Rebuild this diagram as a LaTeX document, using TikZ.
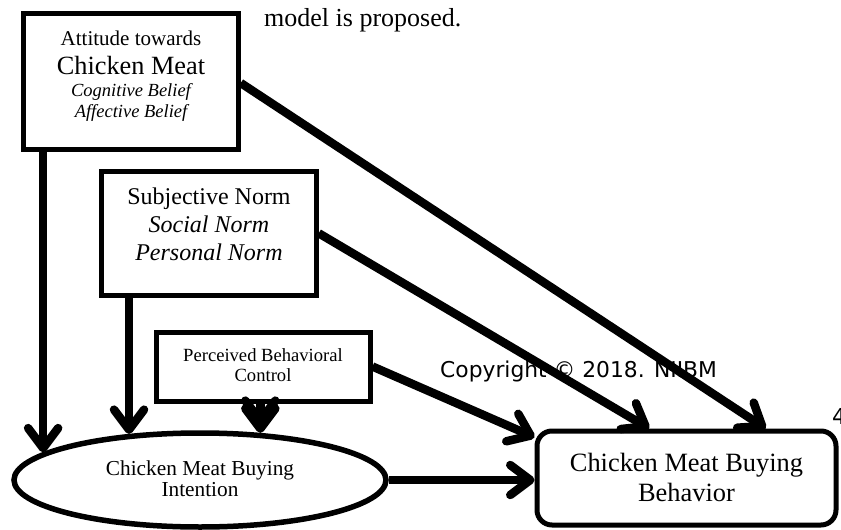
\documentclass[tikz,border=0pt]{standalone}
\usepackage{fontspec}
\setmainfont{Liberation Serif}
\newfontfamily\cpfont{DejaVu Sans}
\usetikzlibrary{arrows.meta,shapes.geometric}
\newcommand\rowx[3]{\rule[-#2pt]{0pt}{\dimexpr #1pt+#2pt\relax}{#3}}
\newcommand\fsz[1]{\fontsize{#1}{0}\selectfont}
\newcommand\tightlines{\fsz{20}\lineskip=0pt\lineskiplimit=0pt\relax}
\begin{document}
\begin{tikzpicture}[x=1pt,y=-1pt,
  box/.style={draw,line width=5pt,inner sep=0pt,align=center,font={\tightlines}},
  arr/.style={line width=8.5pt,-{Straight Barb[length=20pt,width=30pt,round]}},
  plain/.style={anchor=base west,inner sep=0pt}
]
\useasboundingbox (0,0) rectangle (841,530);

\node[plain,font=\fsz{26}] (cap) at (264,26) {model is proposed.};
\node[plain,font={\cpfont\fsz{21.8}}] (copy) at (440,377) {Copyright © 2018. NIIBM};
\node[plain,font={\cpfont\fsz{22}}] (pg) at (832,424) {4};

\node[box,minimum width=214.5pt,minimum height=136pt] (A) at (131,81)
  {\rowx{16}{6}{\fsz{21}Attitude towards}\\
   \rowx{22.3}{6}{\fsz{26.3}Chicken Meat}\\
   \rowx{16.7}{5}{\fsz{18.5}\itshape Cognitive Belief}\\
   \rowx{15.3}{15.3}{\fsz{18.5}\itshape Affective Belief}};

\node[box,minimum width=214.5pt,minimum height=123.5pt] (S) at (209,233.25)
  {\rowx{18}{6}{\fsz{24}Subjective Norm}\\
   \rowx{21.7}{6}{\fsz{24}\itshape Social Norm}\\
   \rowx{22}{19.7}{\fsz{24}\itshape Personal Norm}};

\node[box,minimum width=214pt,minimum height=69pt] (P) at (263,366.5)
  {\rowx{15}{5}{\fsz{18.6}Perceived Behavioral}\\
   \rowx{15.7}{5.3}{\fsz{18.6}Control}};

\node[box,ellipse,line width=5.5pt,minimum width=372pt,minimum height=94pt] (I) at (200,480)
  {\rowx{17}{5.5}{\fsz{21.3}Chicken Meat Buying}\\
   \rowx{16.2}{5.3}{\fsz{21.3}Intention}};

\node[box,rounded corners=15pt,minimum width=299pt,minimum height=94pt] (Bh) at (686.5,478)
  {\rowx{22}{7}{\fsz{26.4}Chicken Meat Buying}\\
   \rowx{23}{6}{\fsz{26.4}Behavior}};

\draw[arr] ([yshift=-2pt]A.east) -- (Bh.32.9);
\draw[arr] (S.east) -- (Bh.127.1);
\draw[arr] (P.east) -- (Bh.165.6);
\draw[arr] (I.east) -- (I.east -| Bh.west);
\draw[arr] (I.170 |- A.south) -- (I.170);
\draw[arr] (I.147 |- S.south) -- (I.147);
\draw[arr] (I.38 |- P.south) -- (I.38);
\draw[arr] (I.38 |- P.south) -- ([yshift=8pt]I.38);
\end{tikzpicture}
\end{document}
